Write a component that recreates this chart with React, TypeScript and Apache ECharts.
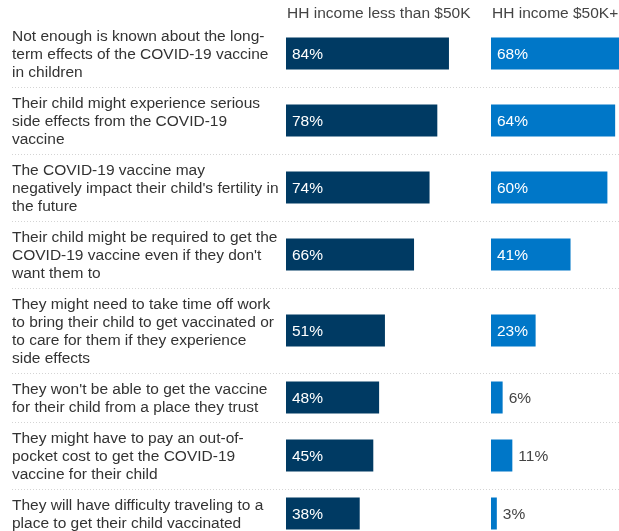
import React, { useEffect, useRef } from "react";
import * as echarts from "echarts";

const categories = [
  "Not enough is known about the long-\nterm effects of the COVID-19 vaccine\nin children",
  "Their child might experience serious\nside effects from the COVID-19\nvaccine",
  "The COVID-19 vaccine may\nnegatively impact their child's fertility in\nthe future",
  "Their child might be required to get the\nCOVID-19 vaccine even if they don't\nwant them to",
  "They might need to take time off work\nto bring their child to get vaccinated or\nto care for them if they experience\nside effects",
  "They won't be able to get the vaccine\nfor their child from a place they trust",
  "They might have to pay an out-of-\npocket cost to get the COVID-19\nvaccine for their child",
  "They will have difficulty traveling to a\nplace to get their child vaccinated",
];
const under50k = [84, 78, 74, 66, 51, 48, 45, 38];
const over50k = [68, 64, 60, 41, 23, 6, 11, 3];
const seriesNames = ["HH income less than $50K", "HH income $50K+"];

const FONT = "Liberation Sans, Arial, sans-serif";
const COLORS = ["#003a63", "#0077c8"];
const PANEL_LEFT = [286, 491];
const PANEL_WIDTH = 194;
const FIRST_TOP = 20;
const LINE_H = 18;
const ROW_PAD = 13;

export default function App() {
  const ref = useRef<HTMLDivElement>(null);
  useEffect(() => {
    if (!ref.current) return;
    const chart = echarts.init(ref.current, null, { renderer: "svg" });

    const rowTops: number[] = [];
    const rowHeights: number[] = [];
    let y = FIRST_TOP;
    categories.forEach((c) => {
      const h = c.split("\n").length * LINE_H + ROW_PAD;
      rowTops.push(y);
      rowHeights.push(h);
      y += h;
    });

    const grids: any[] = [];
    const xAxes: any[] = [];
    const yAxes: any[] = [];
    const series: any[] = [];
    const panels = [under50k, over50k];

    categories.forEach((cat, i) => {
      panels.forEach((vals, p) => {
        const idx = grids.length;
        grids.push({
          left: PANEL_LEFT[p],
          width: PANEL_WIDTH,
          top: rowTops[i],
          height: rowHeights[i],
          containLabel: false,
        });
        xAxes.push({
          type: "value",
          gridIndex: idx,
          min: 0,
          max: 100,
          show: false,
        });
        yAxes.push({
          type: "category",
          gridIndex: idx,
          data: [cat],
          axisLine: { show: false },
          axisTick: { show: false },
          axisLabel: {
            show: p === 0,
            align: "left",
            margin: PANEL_LEFT[0] - 12,
            fontFamily: FONT,
            fontSize: 15.5,
            lineHeight: LINE_H,
            color: "#333",
          },
        });
        const v = vals[i];
        const inside = v >= 15;
        series.push({
          type: "bar",
          name: seriesNames[p],
          xAxisIndex: idx,
          yAxisIndex: idx,
          barWidth: 32,
          itemStyle: { color: COLORS[p] },
          data: [
            {
              value: v,
              label: {
                show: true,
                position: inside ? "insideLeft" : "right",
                distance: 6,
                formatter: "{c}%",
                color: inside ? "#ffffff" : "#444",
                fontFamily: FONT,
                fontSize: 15.5,
              },
            },
          ],
        });
      });
    });

    const separators = rowTops.slice(1).map((t) => ({
      type: "line",
      shape: { x1: 12, y1: Math.round(t) + 0.5, x2: 619, y2: Math.round(t) + 0.5 },
      style: { stroke: "#d4d4d4", lineWidth: 1, lineDash: [1, 2] },
      silent: true,
    }));

    chart.setOption({
      animation: false,
      title: seriesNames.map((n, p) => ({
        text: n,
        left: PANEL_LEFT[p] + 1,
        top: 3,
        padding: 0,
        textStyle: {
          fontFamily: FONT,
          fontSize: 15.5,
          fontWeight: "normal",
          color: "#444",
          lineHeight: 18,
        },
      })),
      grid: grids,
      xAxis: xAxes,
      yAxis: yAxes,
      series,
      graphic: separators,
    });
    return () => chart.dispose();
  }, []);
  return (
    <div
      style={{
        position: "fixed",
        left: 0,
        top: 0,
        width: 619,
        height: 531,
        overflow: "hidden",
      }}
    >
      <div ref={ref} style={{ width: 720, height: 580 }} />
    </div>
  );
}
